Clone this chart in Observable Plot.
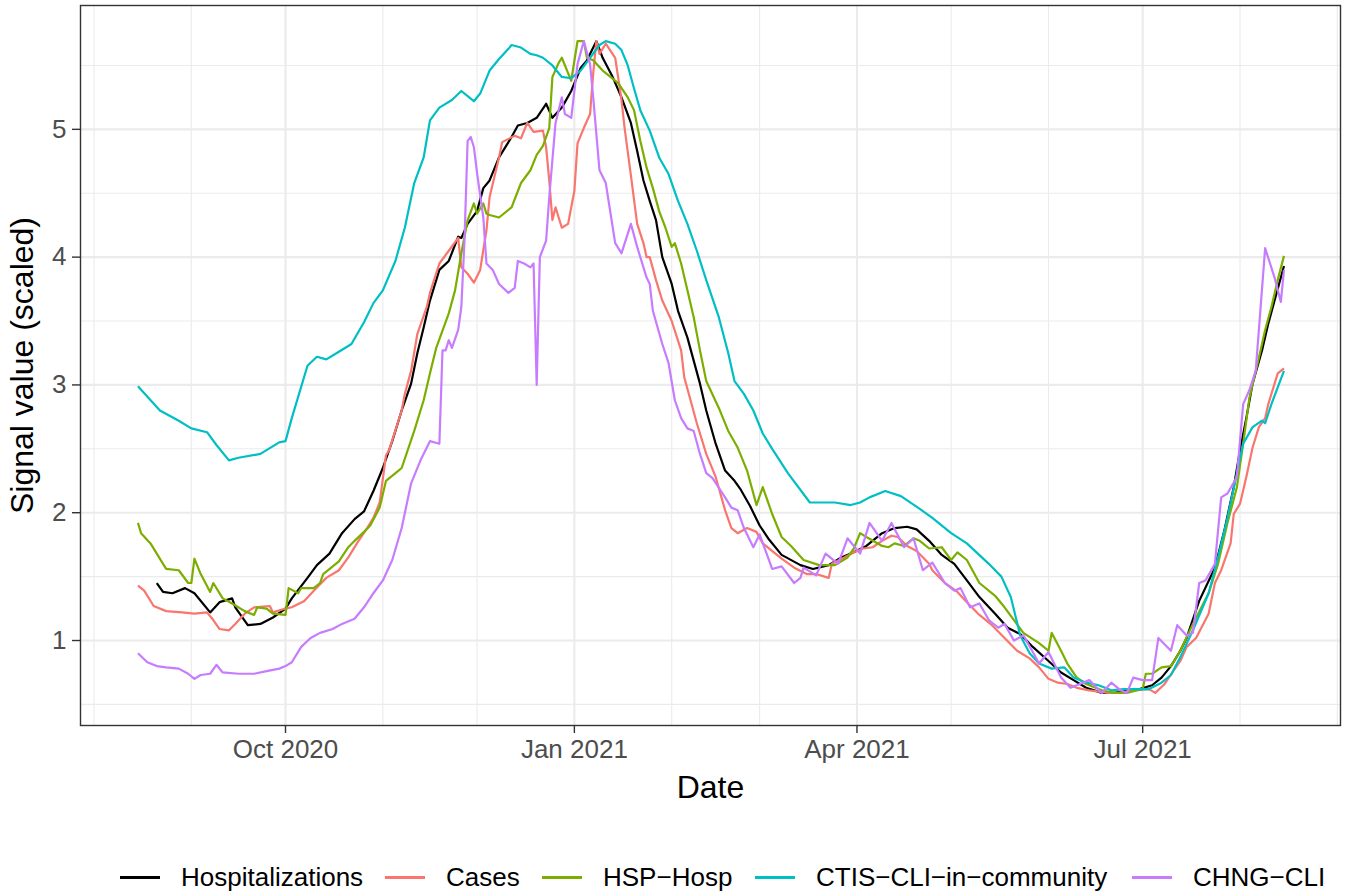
<!DOCTYPE html>
<html><head><meta charset="utf-8">
<script src="https://cdn.jsdelivr.net/npm/d3@7"></script>
<script src="https://cdn.jsdelivr.net/npm/@observablehq/plot@0.6"></script>
<style>
body{margin:0;background:#fff;font-family:"Liberation Sans",Arial,Helvetica,sans-serif;}
#wrap{width:1346px;position:relative;background:#fff;}
#legend{position:relative;height:47px;width:1346px;}
.key{position:absolute;height:2.6px;width:40px;top:31px;}
.lab{position:absolute;top:19px;font-size:26px;line-height:26px;color:#000;white-space:nowrap;}
</style></head><body><div id="wrap"><div id="chart"></div><div id="legend"></div></div>
<script>
const seriesNames = ["Hospitalizations","Cases","HSP\u2212Hosp","CTIS\u2212CLI\u2212in\u2212community","CHNG\u2212CLI"];
const seriesColors = ["#000000","#F8766D","#7CAE00","#00BFC4","#C77CFF"];

const hospitalizations = [["2020-08-21",1.45],["2020-08-23",1.38],["2020-08-26",1.37],["2020-08-30",1.41],["2020-09-02",1.37],["2020-09-07",1.22],["2020-09-10",1.30],["2020-09-14",1.33],["2020-09-15",1.26],["2020-09-19",1.12],["2020-09-23",1.13],["2020-09-27",1.18],["2020-10-01",1.25],["2020-10-03",1.33],["2020-10-08",1.49],["2020-10-11",1.59],["2020-10-15",1.68],["2020-10-19",1.84],["2020-10-23",1.95],["2020-10-26",2.01],["2020-10-29",2.17],["2020-11-01",2.35],["2020-11-04",2.56],["2020-11-07",2.80],["2020-11-10",3.01],["2020-11-12",3.25],["2020-11-14",3.45],["2020-11-16",3.66],["2020-11-19",3.90],["2020-11-22",3.97],["2020-11-25",4.16],["2020-11-26",4.15],["2020-11-28",4.26],["2020-12-01",4.36],["2020-12-03",4.54],["2020-12-05",4.60],["2020-12-08",4.78],["2020-12-12",4.94],["2020-12-14",5.03],["2020-12-17",5.05],["2020-12-20",5.09],["2020-12-23",5.20],["2020-12-25",5.09],["2020-12-28",5.17],["2020-12-31",5.30],["2021-01-03",5.48],["2021-01-05",5.54],["2021-01-08",5.69],["2021-01-10",5.56],["2021-01-13",5.42],["2021-01-16",5.25],["2021-01-19",5.05],["2021-01-21",4.83],["2021-01-23",4.60],["2021-01-25",4.44],["2021-01-27",4.29],["2021-01-29",4.00],["2021-02-01",3.79],["2021-02-03",3.58],["2021-02-06",3.37],["2021-02-08",3.19],["2021-02-10",3.01],["2021-02-12",2.80],["2021-02-15",2.54],["2021-02-18",2.33],["2021-02-21",2.25],["2021-02-23",2.18],["2021-02-26",2.05],["2021-03-01",1.90],["2021-03-04",1.79],["2021-03-08",1.67],["2021-03-14",1.59],["2021-03-18",1.56],["2021-03-23",1.59],["2021-03-27",1.65],["2021-03-31",1.69],["2021-04-04",1.74],["2021-04-09",1.84],["2021-04-13",1.88],["2021-04-17",1.89],["2021-04-20",1.87],["2021-04-24",1.78],["2021-04-28",1.67],["2021-05-02",1.60],["2021-05-06",1.47],["2021-05-10",1.34],["2021-05-15",1.21],["2021-05-19",1.10],["2021-05-23",1.05],["2021-05-27",0.95],["2021-06-01",0.84],["2021-06-05",0.75],["2021-06-09",0.69],["2021-06-13",0.63],["2021-06-18",0.59],["2021-06-22",0.59],["2021-06-26",0.61],["2021-06-30",0.62],["2021-07-04",0.65],["2021-07-07",0.71],["2021-07-10",0.80],["2021-07-13",0.92],["2021-07-15",1.02],["2021-07-19",1.31],["2021-07-24",1.57],["2021-07-27",1.86],["2021-07-30",2.20],["2021-08-01",2.49],["2021-08-03",2.74],["2021-08-05",3.01],["2021-08-08",3.27],["2021-08-10",3.48],["2021-08-12",3.66],["2021-08-15",3.93]];

const cases = [["2020-08-15",1.43],["2020-08-17",1.39],["2020-08-20",1.27],["2020-08-24",1.23],["2020-08-29",1.22],["2020-09-02",1.21],["2020-09-06",1.22],["2020-09-08",1.16],["2020-09-10",1.09],["2020-09-13",1.08],["2020-09-15",1.13],["2020-09-18",1.21],["2020-09-21",1.26],["2020-09-26",1.27],["2020-09-27",1.22],["2020-10-01",1.25],["2020-10-03",1.26],["2020-10-07",1.31],["2020-10-10",1.39],["2020-10-14",1.49],["2020-10-18",1.55],["2020-10-21",1.65],["2020-10-24",1.77],["2020-10-27",1.88],["2020-10-29",1.96],["2020-10-31",2.08],["2020-11-02",2.45],["2020-11-03",2.49],["2020-11-07",2.80],["2020-11-08",2.93],["2020-11-10",3.11],["2020-11-12",3.40],["2020-11-15",3.61],["2020-11-16",3.72],["2020-11-19",3.95],["2020-11-22",4.05],["2020-11-25",4.15],["2020-11-26",3.92],["2020-11-28",3.87],["2020-11-30",3.80],["2020-12-02",3.90],["2020-12-04",4.21],["2020-12-05",4.47],["2020-12-08",4.78],["2020-12-09",4.90],["2020-12-13",4.95],["2020-12-15",4.93],["2020-12-17",5.05],["2020-12-19",4.98],["2020-12-22",4.99],["2020-12-23",4.86],["2020-12-24",4.60],["2020-12-25",4.29],["2020-12-26",4.39],["2020-12-28",4.23],["2020-12-30",4.26],["2021-01-01",4.52],["2021-01-02",4.89],["2021-01-04",5.01],["2021-01-06",5.12],["2021-01-07",5.44],["2021-01-08",5.69],["2021-01-09",5.59],["2021-01-11",5.67],["2021-01-14",5.56],["2021-01-16",5.23],["2021-01-17",5.01],["2021-01-19",4.64],["2021-01-21",4.26],["2021-01-23",4.11],["2021-01-24",4.00],["2021-01-25",4.00],["2021-01-27",3.82],["2021-01-29",3.66],["2021-02-01",3.50],["2021-02-04",3.27],["2021-02-05",3.06],["2021-02-07",2.88],["2021-02-09",2.70],["2021-02-12",2.46],["2021-02-15",2.28],["2021-02-18",2.02],["2021-02-20",1.88],["2021-02-22",1.84],["2021-02-25",1.88],["2021-02-28",1.85],["2021-03-02",1.76],["2021-03-08",1.64],["2021-03-12",1.57],["2021-03-16",1.52],["2021-03-19",1.52],["2021-03-23",1.49],["2021-03-24",1.60],["2021-03-28",1.65],["2021-03-31",1.69],["2021-04-03",1.72],["2021-04-06",1.73],["2021-04-09",1.78],["2021-04-12",1.82],["2021-04-14",1.81],["2021-04-17",1.74],["2021-04-20",1.70],["2021-04-24",1.60],["2021-04-25",1.55],["2021-04-29",1.45],["2021-05-03",1.38],["2021-05-06",1.30],["2021-05-10",1.20],["2021-05-14",1.12],["2021-05-18",1.02],["2021-05-22",0.92],["2021-05-26",0.86],["2021-05-29",0.79],["2021-06-01",0.70],["2021-06-04",0.67],["2021-06-07",0.66],["2021-06-10",0.63],["2021-06-14",0.61],["2021-06-20",0.59],["2021-06-24",0.59],["2021-06-28",0.61],["2021-07-03",0.62],["2021-07-05",0.59],["2021-07-08",0.66],["2021-07-11",0.77],["2021-07-13",0.84],["2021-07-15",0.95],["2021-07-18",1.02],["2021-07-22",1.21],["2021-07-24",1.45],["2021-07-26",1.55],["2021-07-29",1.76],["2021-07-30",1.99],["2021-08-01",2.07],["2021-08-03",2.28],["2021-08-05",2.51],["2021-08-07",2.67],["2021-08-09",2.74],["2021-08-10",2.85],["2021-08-13",3.09],["2021-08-15",3.13]];

const hspHosp = [["2020-08-15",1.92],["2020-08-16",1.84],["2020-08-19",1.76],["2020-08-23",1.60],["2020-08-24",1.56],["2020-08-28",1.55],["2020-08-31",1.45],["2020-09-01",1.45],["2020-09-02",1.64],["2020-09-04",1.52],["2020-09-07",1.38],["2020-09-08",1.45],["2020-09-11",1.33],["2020-09-14",1.29],["2020-09-18",1.23],["2020-09-21",1.20],["2020-09-22",1.26],["2020-09-25",1.25],["2020-09-27",1.21],["2020-10-01",1.20],["2020-10-02",1.41],["2020-10-05",1.37],["2020-10-06",1.41],["2020-10-10",1.41],["2020-10-12",1.45],["2020-10-13",1.52],["2020-10-18",1.62],["2020-10-21",1.73],["2020-10-23",1.78],["2020-10-26",1.85],["2020-10-28",1.90],["2020-10-31",2.04],["2020-11-02",2.25],["2020-11-06",2.33],["2020-11-07",2.35],["2020-11-11",2.64],["2020-11-14",2.88],["2020-11-16",3.09],["2020-11-18",3.29],["2020-11-22",3.56],["2020-11-24",3.74],["2020-11-26",4.03],["2020-11-28",4.29],["2020-11-30",4.42],["2020-12-01",4.34],["2020-12-03",4.42],["2020-12-04",4.34],["2020-12-05",4.33],["2020-12-08",4.31],["2020-12-12",4.39],["2020-12-15",4.58],["2020-12-18",4.68],["2020-12-20",4.80],["2020-12-22",4.87],["2020-12-24",5.01],["2020-12-25",5.41],["2020-12-27",5.52],["2020-12-28",5.56],["2020-12-30",5.44],["2020-12-31",5.38],["2021-01-02",5.69],["2021-01-04",5.69],["2021-01-05",5.56],["2021-01-07",5.54],["2021-01-10",5.46],["2021-01-13",5.40],["2021-01-15",5.36],["2021-01-18",5.25],["2021-01-20",5.15],["2021-01-22",4.91],["2021-01-24",4.70],["2021-01-26",4.54],["2021-01-28",4.36],["2021-01-30",4.23],["2021-02-01",4.08],["2021-02-02",4.11],["2021-02-04",3.95],["2021-02-06",3.74],["2021-02-08",3.53],["2021-02-10",3.27],["2021-02-12",3.03],["2021-02-16",2.82],["2021-02-19",2.64],["2021-02-22",2.51],["2021-02-25",2.33],["2021-02-28",2.06],["2021-03-02",2.20],["2021-03-05",1.99],["2021-03-08",1.81],["2021-03-11",1.74],["2021-03-15",1.63],["2021-03-20",1.59],["2021-03-25",1.59],["2021-03-29",1.65],["2021-03-31",1.72],["2021-04-02",1.84],["2021-04-04",1.81],["2021-04-09",1.74],["2021-04-11",1.73],["2021-04-13",1.76],["2021-04-16",1.74],["2021-04-19",1.80],["2021-04-21",1.78],["2021-04-24",1.72],["2021-04-28",1.73],["2021-05-01",1.63],["2021-05-03",1.69],["2021-05-06",1.63],["2021-05-10",1.45],["2021-05-15",1.35],["2021-05-18",1.26],["2021-05-21",1.16],["2021-05-24",1.06],["2021-05-29",0.98],["2021-06-01",0.92],["2021-06-02",1.06],["2021-06-05",0.92],["2021-06-07",0.82],["2021-06-10",0.71],["2021-06-13",0.66],["2021-06-18",0.61],["2021-06-22",0.59],["2021-06-26",0.59],["2021-06-29",0.61],["2021-07-01",0.62],["2021-07-02",0.74],["2021-07-04",0.74],["2021-07-07",0.79],["2021-07-10",0.80],["2021-07-13",0.92],["2021-07-17",1.13],["2021-07-22",1.37],["2021-07-25",1.60],["2021-07-28",1.92],["2021-07-31",2.20],["2021-08-02",2.54],["2021-08-04",2.90],["2021-08-07",3.21],["2021-08-09",3.43],["2021-08-11",3.61],["2021-08-13",3.82],["2021-08-15",4.01]];

const ctisCli = [["2020-08-15",2.99],["2020-08-22",2.80],["2020-08-28",2.72],["2020-09-01",2.66],["2020-09-06",2.63],["2020-09-09",2.53],["2020-09-13",2.41],["2020-09-16",2.43],["2020-09-23",2.46],["2020-09-29",2.55],["2020-10-01",2.56],["2020-10-03",2.74],["2020-10-08",3.15],["2020-10-11",3.22],["2020-10-14",3.20],["2020-10-18",3.26],["2020-10-22",3.32],["2020-10-26",3.49],["2020-10-29",3.64],["2020-11-01",3.74],["2020-11-05",3.97],["2020-11-08",4.23],["2020-11-11",4.58],["2020-11-14",4.78],["2020-11-16",5.07],["2020-11-19",5.17],["2020-11-23",5.23],["2020-11-26",5.30],["2020-11-29",5.24],["2020-11-30",5.22],["2020-12-02",5.28],["2020-12-05",5.46],["2020-12-08",5.55],["2020-12-11",5.63],["2020-12-12",5.66],["2020-12-15",5.64],["2020-12-18",5.59],["2020-12-20",5.58],["2020-12-22",5.56],["2020-12-25",5.50],["2020-12-28",5.41],["2020-12-31",5.40],["2021-01-03",5.46],["2021-01-06",5.56],["2021-01-09",5.66],["2021-01-11",5.69],["2021-01-14",5.67],["2021-01-16",5.62],["2021-01-18",5.50],["2021-01-20",5.32],["2021-01-22",5.15],["2021-01-25",4.99],["2021-01-28",4.78],["2021-01-31",4.65],["2021-02-03",4.44],["2021-02-06",4.26],["2021-02-09",4.05],["2021-02-12",3.82],["2021-02-16",3.53],["2021-02-19",3.25],["2021-02-21",3.03],["2021-02-24",2.93],["2021-02-27",2.80],["2021-03-02",2.62],["2021-03-05",2.50],["2021-03-10",2.31],["2021-03-17",2.08],["2021-03-25",2.08],["2021-03-30",2.06],["2021-04-02",2.08],["2021-04-05",2.12],["2021-04-10",2.17],["2021-04-15",2.13],["2021-04-21",2.03],["2021-04-25",1.96],["2021-05-01",1.84],["2021-05-06",1.76],["2021-05-13",1.60],["2021-05-17",1.50],["2021-05-20",1.34],["2021-05-23",1.04],["2021-05-26",0.90],["2021-05-29",0.82],["2021-06-02",0.78],["2021-06-06",0.79],["2021-06-09",0.71],["2021-06-13",0.67],["2021-06-17",0.65],["2021-06-21",0.61],["2021-06-25",0.62],["2021-06-29",0.62],["2021-07-03",0.62],["2021-07-07",0.67],["2021-07-10",0.73],["2021-07-13",0.87],["2021-07-17",1.08],["2021-07-22",1.37],["2021-07-25",1.65],["2021-07-28",1.96],["2021-07-31",2.31],["2021-08-02",2.54],["2021-08-05",2.67],["2021-08-08",2.72],["2021-08-09",2.70],["2021-08-11",2.85],["2021-08-13",2.98],["2021-08-15",3.11]];

const chngCli = [["2020-08-15",0.90],["2020-08-18",0.83],["2020-08-21",0.80],["2020-08-24",0.79],["2020-08-28",0.78],["2020-08-31",0.74],["2020-09-02",0.70],["2020-09-04",0.73],["2020-09-07",0.74],["2020-09-09",0.81],["2020-09-11",0.75],["2020-09-16",0.74],["2020-09-21",0.74],["2020-09-25",0.76],["2020-09-29",0.78],["2020-10-01",0.80],["2020-10-03",0.83],["2020-10-06",0.95],["2020-10-09",1.02],["2020-10-12",1.06],["2020-10-16",1.09],["2020-10-19",1.13],["2020-10-23",1.17],["2020-10-26",1.26],["2020-10-29",1.37],["2020-11-01",1.47],["2020-11-04",1.63],["2020-11-07",1.88],["2020-11-10",2.23],["2020-11-13",2.41],["2020-11-16",2.56],["2020-11-19",2.54],["2020-11-20",3.27],["2020-11-21",3.27],["2020-11-22",3.35],["2020-11-23",3.29],["2020-11-25",3.43],["2020-11-26",3.61],["2020-11-27",4.13],["2020-11-28",4.91],["2020-11-29",4.94],["2020-11-30",4.86],["2020-12-01",4.66],["2020-12-03",4.31],["2020-12-04",3.95],["2020-12-06",3.90],["2020-12-08",3.79],["2020-12-11",3.72],["2020-12-13",3.76],["2020-12-14",3.97],["2020-12-16",3.95],["2020-12-18",3.92],["2020-12-19",3.95],["2020-12-20",3.00],["2020-12-21",4.00],["2020-12-23",4.13],["2020-12-24",4.47],["2020-12-26",5.05],["2020-12-28",5.25],["2020-12-29",5.12],["2020-12-31",5.09],["2021-01-02",5.51],["2021-01-04",5.69],["2021-01-06",5.51],["2021-01-07",5.25],["2021-01-09",4.68],["2021-01-11",4.58],["2021-01-14",4.11],["2021-01-16",4.03],["2021-01-19",4.26],["2021-01-21",4.08],["2021-01-24",3.84],["2021-01-25",3.79],["2021-01-26",3.58],["2021-01-29",3.32],["2021-01-31",3.17],["2021-02-02",2.88],["2021-02-04",2.74],["2021-02-06",2.66],["2021-02-08",2.64],["2021-02-10",2.46],["2021-02-12",2.31],["2021-02-14",2.27],["2021-02-18",2.12],["2021-02-20",2.04],["2021-02-22",2.02],["2021-02-24",1.88],["2021-02-27",1.73],["2021-03-01",1.83],["2021-03-05",1.56],["2021-03-08",1.58],["2021-03-12",1.45],["2021-03-14",1.49],["2021-03-15",1.57],["2021-03-19",1.51],["2021-03-22",1.68],["2021-03-26",1.60],["2021-03-29",1.80],["2021-04-02",1.68],["2021-04-05",1.92],["2021-04-09",1.78],["2021-04-12",1.92],["2021-04-16",1.73],["2021-04-19",1.80],["2021-04-22",1.55],["2021-04-25",1.61],["2021-04-29",1.45],["2021-05-02",1.39],["2021-05-04",1.41],["2021-05-07",1.26],["2021-05-10",1.29],["2021-05-13",1.16],["2021-05-16",1.10],["2021-05-18",1.13],["2021-05-21",1.00],["2021-05-24",1.04],["2021-05-27",0.91],["2021-05-29",0.82],["2021-06-01",0.91],["2021-06-05",0.71],["2021-06-08",0.63],["2021-06-11",0.66],["2021-06-14",0.69],["2021-06-18",0.59],["2021-06-21",0.67],["2021-06-24",0.61],["2021-06-26",0.59],["2021-06-28",0.71],["2021-07-01",0.69],["2021-07-04",0.69],["2021-07-06",1.02],["2021-07-10",0.92],["2021-07-12",1.12],["2021-07-15",1.04],["2021-07-17",1.06],["2021-07-19",1.45],["2021-07-21",1.47],["2021-07-24",1.60],["2021-07-26",2.12],["2021-07-28",2.15],["2021-07-31",2.28],["2021-08-02",2.85],["2021-08-04",2.96],["2021-08-06",3.11],["2021-08-09",4.07],["2021-08-12",3.84],["2021-08-14",3.65],["2021-08-15",3.90]];

const yTicks = [1, 2, 3, 4, 5];
const yMinor = [0.5, 1.5, 2.5, 3.5, 4.5, 5.5];
const xTickDates = ["2020-10-01", "2021-01-01", "2021-04-01", "2021-07-01"];
const xTickLabels = ["Oct 2020", "Jan 2021", "Apr 2021", "Jul 2021"];
const xMinorDates = ["2020-08-01", "2020-09-01", "2020-11-01", "2020-12-01", "2021-02-01", "2021-03-01", "2021-05-01", "2021-06-01", "2021-08-01", "2021-09-01"];
const xDomainDates = ["2020-07-27T17:00:00Z", "2021-09-02T00:00:00Z"];
const yDomain = [0.335, 5.969];

const seriesData = [hospitalizations, cases, hspHosp, ctisCli, chngCli];
const table = [];
seriesData.forEach((arr, i) => arr.forEach(([d, v]) => table.push({series: seriesNames[i], date: new Date(d + "T00:00:00Z"), value: v})));

const toDate = s => new Date(s.length === 10 ? s + "T00:00:00Z" : s);
const xTicks = xTickDates.map(toDate);
const xMinor = xMinorDates.map(toDate);
const labelOf = new Map(xTicks.map((d, i) => [+d, xTickLabels[i]]));

const chart = Plot.plot({
  width: 1346, height: 845,
  marginLeft: 80, marginRight: 6, marginTop: 5, marginBottom: 120,
  style: {fontFamily: "'Liberation Sans', Arial, Helvetica, sans-serif", background: "#fff", overflow: "visible"},
  x: {type: "utc", domain: xDomainDates.map(toDate)},
  y: {domain: yDomain},
  color: {domain: seriesNames, range: seriesColors},
  marks: [
    Plot.gridY(yMinor, {stroke: "#ebebeb", strokeOpacity: 1, strokeWidth: 1.1}),
    Plot.gridX(xMinor, {stroke: "#ebebeb", strokeOpacity: 1, strokeWidth: 1.1}),
    Plot.gridY(yTicks, {stroke: "#ebebeb", strokeOpacity: 1, strokeWidth: 2.1}),
    Plot.gridX(xTicks, {stroke: "#ebebeb", strokeOpacity: 1, strokeWidth: 2.1}),
    Plot.line(table, {x: "date", y: "value", z: "series", stroke: "series", strokeWidth: 2.2, strokeLinejoin: "round", strokeLinecap: "butt"}),
    Plot.frame({stroke: "#333333", strokeWidth: 1.4}),
    Plot.axisY(yTicks, {tickSize: 8, tickPadding: 6, fontSize: 26, stroke: "#333333", fill: "#4d4d4d", strokeWidth: 1.4, label: null, tickFormat: d => String(d)}),
    Plot.axisX(xTicks, {tickSize: 8, tickPadding: 6, fontSize: 26, stroke: "#333333", fill: "#4d4d4d", strokeWidth: 1.4, label: null, tickFormat: d => labelOf.get(+d)}),
    Plot.text(["Signal value (scaled)"], {text: d => d, frameAnchor: "left", dx: -58, rotate: -90, textAnchor: "middle", lineAnchor: "middle", fontSize: 32, fill: "#000"}),
    Plot.text(["Date"], {text: d => d, frameAnchor: "bottom", dy: 62, textAnchor: "middle", lineAnchor: "middle", fontSize: 32, fill: "#000"})
  ]
});
document.getElementById("chart").appendChild(chart);

// legend below the plot
const legendTextLeft = [181, 446, 603, 816, 1193];
const legend = document.getElementById("legend");
seriesNames.forEach((name, i) => {
  const k = document.createElement("div");
  k.className = "key";
  k.style.left = (legendTextLeft[i] - 61) + "px";
  k.style.background = seriesColors[i];
  legend.appendChild(k);
  const t = document.createElement("div");
  t.className = "lab";
  t.style.left = legendTextLeft[i] + "px";
  t.textContent = name;
  legend.appendChild(t);
});
</script></body></html>
